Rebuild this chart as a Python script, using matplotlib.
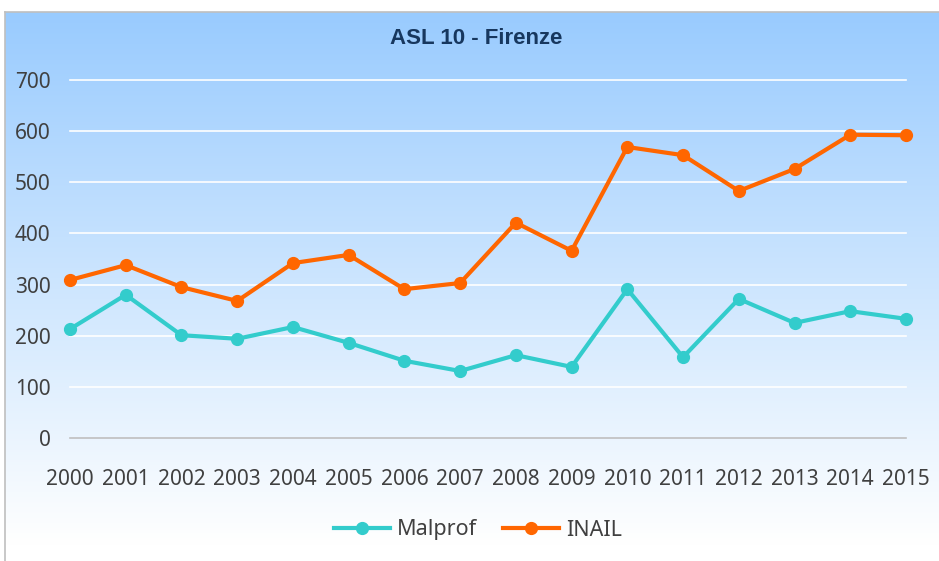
import numpy as np
import matplotlib
matplotlib.use('Agg')
import matplotlib.pyplot as plt
from matplotlib.lines import Line2D

years = list(range(2000, 2016))
malprof = [213, 280, 201, 194, 217, 186, 151, 131, 162, 139, 291, 158, 272, 225, 248, 233]
inail = [309, 338, 295, 268, 342, 358, 291, 303, 421, 366, 569, 553, 483, 526, 593, 592]
series_names = ['Malprof', 'INAIL']
y_ticks = [0, 100, 200, 300, 400, 500, 600, 700]

TEAL = '#33CCCC'
ORANGE = '#FF6600'
TEXT = '#404040'

plt.rcParams['font.family'] = ['Noto Sans', 'DejaVu Sans']

fig = plt.figure(figsize=(9.39, 5.61), dpi=100)
fig.patch.set_facecolor('white')

# gradient background of the chart area
bg = fig.add_axes([5 / 939, 0, 934 / 939, 549 / 561], zorder=-10)
top = np.array([0x99, 0xCB, 0xFE]) / 255.0
bot = np.array([1.0, 1.0, 1.0])
t = np.linspace(0, 1, 256)[:, None]
t = np.clip(t / 0.97, 0, 1)
grad = top[None, :] * (1 - t) + bot[None, :] * t
bg.imshow(grad[:, None, :], aspect='auto', extent=[0, 1, 0, 1], origin='upper')
bg.set_xlim(0, 1)
bg.set_ylim(0, 1)
bg.set_xticks([])
bg.set_yticks([])
for side in ['right', 'bottom']:
    bg.spines[side].set_visible(False)
for side in ['left', 'top']:
    bg.spines[side].set_color('#BFBFBF')
    bg.spines[side].set_linewidth(1.2)

ax = fig.add_axes([70 / 939, 123 / 561, 836 / 939, 358 / 561])
ax.patch.set_alpha(0)

ax.plot(years, malprof, color=TEAL, lw=3, marker='o', ms=8.5, zorder=3,
        label=series_names[0], solid_joinstyle='round')
ax.plot(years, inail, color=ORANGE, lw=3, marker='o', ms=8.5, zorder=3,
        label=series_names[1], solid_joinstyle='round')

ax.set_xlim(2000, 2015)
ax.set_ylim(0, 700)
ax.set_yticks(y_ticks)
ax.set_xticks(years)
ax.set_xticklabels([str(y) for y in years])
for v in y_ticks[1:]:
    ax.axhline(v, color='white', lw=1.2, zorder=1)
ax.axhline(0, color='#BFBFBF', lw=1.2, zorder=1)

for s in ax.spines.values():
    s.set_visible(False)
ax.tick_params(axis='both', length=0, labelsize=15, colors=TEXT)
ax.tick_params(axis='y', pad=14)
ax.tick_params(axis='x', pad=22)
for ln in ax.lines:
    ln.set_clip_on(False)

fig.text(476 / 939, 1 - 39 / 561, 'ASL 10 - Firenze', ha='center', va='center',
         fontsize=16, fontweight='bold', color='#17375E',
         family=['Liberation Sans', 'DejaVu Sans'])

handles = [Line2D([], [], color=TEAL, lw=3, marker='o', ms=8.5),
           Line2D([], [], color=ORANGE, lw=3, marker='o', ms=8.5)]
fig.legend(handles, series_names, loc='center', bbox_to_anchor=(478 / 939, 31 / 561),
           ncol=2, frameon=False, fontsize=15.5, handlelength=2.6,
           handletextpad=0.35, columnspacing=1.2, labelcolor=TEXT)

fig.savefig('out.png', dpi=100)
